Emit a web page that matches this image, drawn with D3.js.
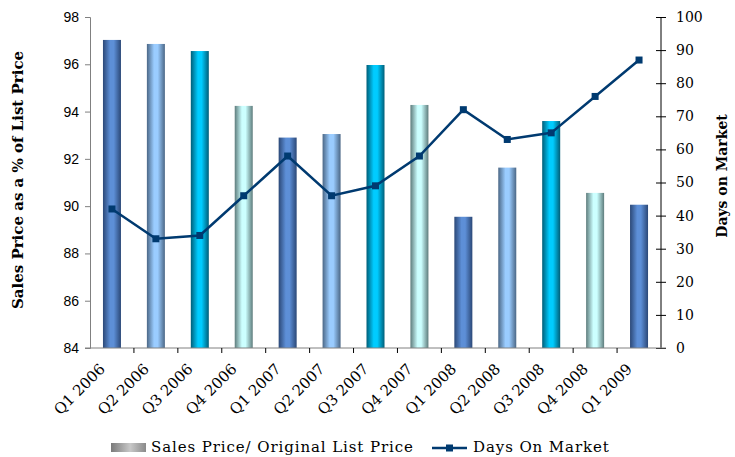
<!DOCTYPE html>
<meta charset="utf-8">
<style>
    body { margin: 0; background: #fff; }
    .tickL text { font-family: "Liberation Sans", Arial, sans-serif; font-size: 14px; fill: #000; }
    .tickR text { font-family: "DejaVu Serif", serif; font-size: 14px; fill: #000; }
    .xax text { font-family: "DejaVu Serif", serif; font-size: 15px; fill: #000; }
    .title { font-family: "DejaVu Serif", serif; font-weight: bold; }
    .legend text { font-family: "DejaVu Serif", serif; font-size: 15px; letter-spacing: 0.9px; }
</style>

<svg width="735" height="457"></svg>
<script src="https://d3js.org/d3.v7.min.js"></script>
<script>

    var quarters = ["Q1 2006", "Q2 2006", "Q3 2006", "Q4 2006", "Q1 2007", "Q2 2007", "Q3 2007",
        "Q4 2007", "Q1 2008", "Q2 2008", "Q3 2008", "Q4 2008", "Q1 2009"];
    var pricePct = [97.03, 96.86, 96.56, 94.24, 92.9, 93.05, 95.97, 94.28, 89.55, 91.63, 93.6, 90.56, 90.06];
    var daysOnMarket = [42, 33, 34, 46, 58, 46, 49, 58, 72, 63, 65, 76, 87];
    var leftTicks = [84, 86, 88, 90, 92, 94, 96, 98];
    var rightTicks = [0, 10, 20, 30, 40, 50, 60, 70, 80, 90, 100];

    // edge / middle colours for the 4 repeating bar styles
    var barStyles = [
        { edge: "#2b4877", mid: "#5d8fd7" },
        { edge: "#4b6786", mid: "#9accff" },
        { edge: "#005e78", mid: "#00ccff" },
        { edge: "#5e7c7c", mid: "#ccffff" }
    ];

    var svg = d3.select("svg");
    var margin = { left: 90, top: 17, right: 74, bottom: 109 };
    var width = 735 - margin.left - margin.right;
    var height = 457 - margin.top - margin.bottom;

    var defs = svg.append("defs");
    barStyles.forEach(function (s, i) {
        var g = defs.append("linearGradient").attr("id", "bar" + i)
            .attr("x1", "0%").attr("x2", "100%").attr("y1", "0%").attr("y2", "0%");
        g.append("stop").attr("offset", "0%").attr("stop-color", s.edge);
        g.append("stop").attr("offset", "40%").attr("stop-color", s.mid);
        g.append("stop").attr("offset", "60%").attr("stop-color", s.mid);
        g.append("stop").attr("offset", "100%").attr("stop-color", s.edge);
    });
    var lg = defs.append("linearGradient").attr("id", "legGrad");
    lg.append("stop").attr("offset", "0%").attr("stop-color", "#7a7a7a");
    lg.append("stop").attr("offset", "55%").attr("stop-color", "#c8c8c8");
    lg.append("stop").attr("offset", "100%").attr("stop-color", "#8a8a8a");

    var svgG = svg.append("g")
        .attr("transform", "translate(" + margin.left + "," + margin.top + ")");

    var x = d3.scaleBand().domain(quarters).range([0, width]);
    var yL = d3.scaleLinear().domain([84, 98]).range([height, 0]);
    var yR = d3.scaleLinear().domain([0, 100]).range([height, 0]);

    var barW = 18;

    svgG.selectAll(".bar")
        .data(pricePct)
        .enter().append("rect")
        .attr("class", "bar")
        .attr("x", function (d, i) { return x(quarters[i]) + x.bandwidth() / 2 - barW / 2; })
        .attr("width", barW)
        .attr("y", function (d) { return yL(d); })
        .attr("height", function (d) { return height - yL(d); })
        .attr("fill", function (d, i) { return "url(#bar" + (i % 4) + ")"; });

    // left axis
    var axL = svgG.append("g").attr("class", "tickL")
        .call(d3.axisLeft(yL).tickValues(leftTicks).tickSize(5).tickPadding(6));
    axL.select(".domain").attr("stroke", "#808080");
    axL.selectAll(".tick line").attr("stroke", "#808080");

    // right axis, ticks cross the line
    var axR = svgG.append("g").attr("class", "tickR")
        .attr("transform", "translate(" + width + ",0)")
        .call(d3.axisRight(yR).tickValues(rightTicks).tickSize(5).tickPadding(10));
    axR.select(".domain").attr("d", "M0,0V" + height);
    axR.selectAll(".tick line").attr("x1", -5).attr("x2", 5);

    // x axis with ticks at category boundaries
    var axX = svgG.append("g").attr("class", "xax")
        .attr("transform", "translate(0," + height + ")")
        .call(d3.axisBottom(x).tickSize(0).tickPadding(0));
    axX.select(".domain").attr("stroke", "#808080").attr("d", "M-5,0H" + (width + 5));
    axX.selectAll(".tick text")
        .attr("text-anchor", "end")
        .attr("dy", "0")
        .attr("transform", "translate(-6,22) rotate(-45)");
    svgG.append("g").selectAll("line")
        .data(quarters.slice(1))
        .enter().append("line")
        .attr("x1", function (d) { return x(d); })
        .attr("x2", function (d) { return x(d); })
        .attr("y1", height).attr("y2", height + 5)
        .attr("stroke", "#000");

    // days on market line
    var line = d3.line()
        .x(function (d, i) { return x(quarters[i]) + x.bandwidth() / 2; })
        .y(function (d) { return yR(d); });

    svgG.append("path")
        .datum(daysOnMarket)
        .attr("fill", "none")
        .attr("stroke", "#003a70")
        .attr("stroke-width", 2.5)
        .attr("d", line);

    svgG.selectAll(".pt")
        .data(daysOnMarket)
        .enter().append("rect")
        .attr("class", "pt")
        .attr("x", function (d, i) { return x(quarters[i]) + x.bandwidth() / 2 - 3.5; })
        .attr("y", function (d) { return yR(d) - 3.5; })
        .attr("width", 7).attr("height", 7)
        .attr("fill", "#003a70");

    // axis titles
    svg.append("text").attr("class", "title")
        .attr("transform", "translate(23,180) rotate(-90)")
        .attr("text-anchor", "middle")
        .style("font-size", "15px")
        .text("Sales Price as a % of List Price");

    svg.append("text").attr("class", "title")
        .attr("transform", "translate(727,176) rotate(-90)")
        .attr("text-anchor", "middle")
        .style("font-size", "14px")
        .text("Days on Market");

    // legend
    var leg = svg.append("g").attr("class", "legend");
    leg.append("rect").attr("x", 111).attr("y", 443).attr("width", 35).attr("height", 9)
        .attr("fill", "url(#legGrad)");
    leg.append("text").attr("x", 151).attr("y", 452).text("Sales Price/ Original List Price");
    leg.append("line").attr("x1", 432).attr("x2", 467).attr("y1", 448).attr("y2", 448)
        .attr("stroke", "#003a70").attr("stroke-width", 2.5);
    leg.append("rect").attr("x", 446).attr("y", 444.5).attr("width", 7).attr("height", 7)
        .attr("fill", "#003a70");
    leg.append("text").attr("x", 473).attr("y", 452).text("Days On Market");

</script>
